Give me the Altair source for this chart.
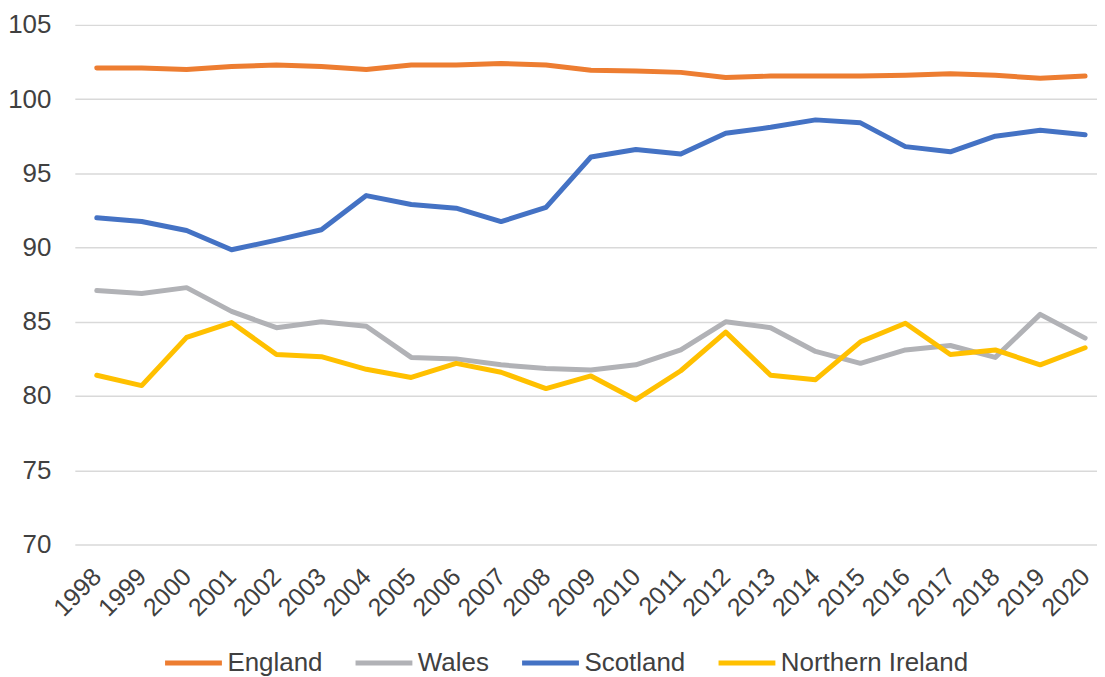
import altair as alt
import pandas as pd

years = list(range(1998, 2021))
series_names = ["England", "Wales", "Scotland", "Northern Ireland"]
series_colors = ["#ED7D31", "#B1B2B6", "#4472C4", "#FFC000"]

england = [102.1, 102.1, 102.0, 102.2, 102.3, 102.2, 102.0, 102.3, 102.3, 102.4, 102.3,
           101.95, 101.9, 101.8, 101.45, 101.55, 101.55, 101.55, 101.6, 101.7, 101.6, 101.4, 101.55]
wales = [87.1, 86.9, 87.3, 85.7, 84.6, 85.0, 84.7, 82.6, 82.5, 82.1, 81.85,
         81.75, 82.1, 83.1, 85.0, 84.6, 83.0, 82.2, 83.1, 83.4, 82.6, 85.5, 83.9]
scotland = [92.0, 91.75, 91.15, 89.85, 90.5, 91.2, 93.5, 92.9, 92.65, 91.75, 92.7,
            96.1, 96.6, 96.3, 97.7, 98.1, 98.6, 98.4, 96.8, 96.45, 97.5, 97.9, 97.6]
northern_ireland = [81.4, 80.7, 83.95, 84.95, 82.8, 82.65, 81.8, 81.25, 82.2, 81.6, 80.5,
                    81.35, 79.75, 81.7, 84.3, 81.4, 81.1, 83.65, 84.9, 82.8, 83.1, 82.1, 83.25]

y_ticks = [70, 75, 80, 85, 90, 95, 100, 105]

rows = []
for name, vals in zip(series_names, [england, wales, scotland, northern_ireland]):
    for yr, v in zip(years, vals):
        rows.append({"Year": yr, "Value": v, "Series": name})
df = pd.DataFrame(rows)

FONT = "Liberation Sans"
TXT = "#404040"

chart = alt.Chart(df).mark_line(strokeWidth=5, strokeCap="round", strokeJoin="round").encode(
    x=alt.X("Year:Q",
            scale=alt.Scale(domain=[1997.5117, 2020.2647], nice=False, zero=False),
            axis=alt.Axis(values=years, format="d", title=None, grid=False, ticks=False,
                          domain=False, labelAngle=-45, labelAlign="right",
                          labelBaseline="middle", labelPadding=28, labelFontSize=25,
                          labelFont=FONT, labelColor=TXT, labelOverlap=False,
                          labelFlush=False)),
    y=alt.Y("Value:Q",
            scale=alt.Scale(domain=[70, 105], nice=False, zero=False),
            axis=alt.Axis(values=y_ticks, title=None, ticks=False, domain=False,
                          gridColor="#D9D9D9", gridWidth=1.5, labelPadding=24,
                          labelFontSize=26, labelFont=FONT, labelColor=TXT)),
    color=alt.Color("Series:N",
                    scale=alt.Scale(domain=series_names, range=series_colors),
                    legend=alt.Legend(title=None, orient="none", direction="horizontal",
                                      legendX=88, legendY=609, symbolType="stroke",
                                      symbolSize=3249, symbolStrokeWidth=5,
                                      labelFontSize=26, labelFont=FONT, labelColor=TXT,
                                      labelOffset=3, columnPadding=22, labelLimit=400)),
).properties(
    width=1025,
    height=521,
    padding={"left": 67, "top": 16, "right": 0, "bottom": 132},
    autosize=alt.AutoSizeParams(type="none"),
).configure_view(stroke=None)

chart.save("out.html", embed_options={"renderer": "svg", "actions": False})
